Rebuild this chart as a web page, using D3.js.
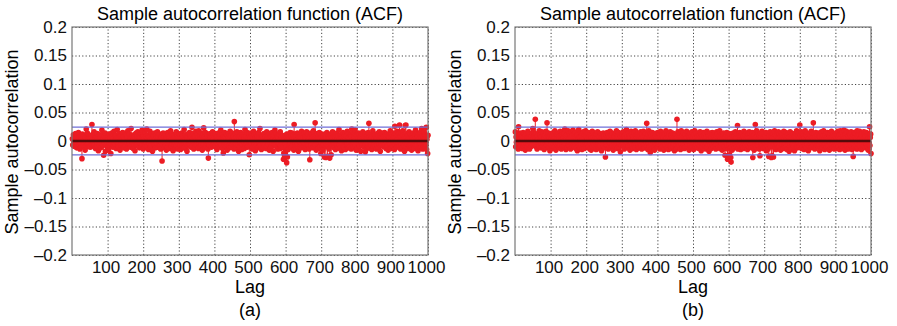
<!DOCTYPE html>
<html>
<head>
<meta charset="utf-8">
<script src="https://cdn.jsdelivr.net/npm/d3@7"></script>
<style>
  body { margin: 0; background: #fff; }
  text { font-family: "Liberation Sans", Arial, Helvetica, sans-serif; }
</style>
</head>
<body>
<div id="chart"></div>
<script>
// ACF values, in thousandths (lag 1..1000)
const acfA = [
  4,-7,2,11,-3,-9,6,0,-5,13, -2,8,-12,3,6,-1,-10,15,5,-6, 1,-14,9,-4,7,-11,3,-31,12,0, 5,-8,10,-3,2,8,-16,6,-2,21, -9,3,14,-6,1,-4,11,-10,7,-2,
  5,-11,9,-1,6,29,-6,2,-8,12, -3,16,-7,2,10,-13,5,0,8,-9, 13,-4,3,-17,9,1,-6,11,-2,6, -12,7,-1,19,-5,10,-8,3,-25,0, 9,-4,14,-18,2,-6,11,-1,7,-10,
  3,-15,8,-2,12,-7,1,6,-22,10, -5,14,-1,7,-11,4,-8,17,-3,1, 11,-6,9,-13,3,0,20,-8,5,-4, -10,6,13,-2,-16,9,0,-7,11,-4, 2,15,-9,6,-1,-12,8,4,-7,14,
  -2,10,-14,5,7,-4,18,-9,1,-6, 12,-3,6,-11,4,22,0,-8,9,-2, 6,-13,2,11,-7,8,-17,4,-1,14, -7,3,10,-5,16,-9,0,8,-12,2, 6,-4,13,-2,-10,5,19,-6,7,-14,
  9,-1,4,-11,15,-6,2,8,-4,21, -9,5,-2,10,-15,1,7,-5,17,-10, 3,-7,13,0,8,-18,5,-3,11,-6, 1,14,-8,4,-12,10,-2,6,-4,16, -11,2,8,-6,0,12,-9,5,-14,4,
  7,-4,-35,10,-6,14,-1,5,-12,8, -2,13,-8,4,-16,6,2,-10,15,-4, 11,0,6,-13,8,-3,18,-7,2,-9, 12,-5,1,-17,9,4,-6,11,-2,7, -13,3,16,-9,5,-1,10,-14,6,-4,
  2,12,-6,8,-15,4,-2,14,-9,6, 9,-7,0,-12,20,-4,6,-1,11,-13, -3,8,-18,5,2,-8,13,-5,1,15, -6,4,10,-11,7,-2,24,-9,4,0, 13,-14,3,8,-4,6,-10,17,-6,2,
  -8,11,-2,6,-13,18,1,-5,9,-10, 4,-2,14,-7,3,-16,8,-4,12,23, -6,7,-12,2,15,-1,-9,6,-4,10, 0,-14,-30,-3,12,-7,4,8,13,-2, 9,-11,5,0,16,-8,2,11,-5,6,
  -4,13,-9,4,-1,9,-15,6,2,-11, 14,-6,8,-2,-10,12,-4,19,-7,3, 0,11,-13,6,-21,8,4,-6,15,-2, 7,-9,1,12,-5,-16,10,-3,5,13, -8,2,-12,17,6,-4,9,-11,0,14,
  -6,10,-2,8,-14,34,4,-9,13,-4, 6,-12,16,0,3,-7,14,-18,6,2, -10,9,-4,15,-2,5,-15,11,-6,1, 12,-1,7,-13,4,20,-8,2,-5,9, -3,15,-11,6,0,-9,13,-24,8,-2,
  5,-8,14,-4,9,-14,2,6,-10,17, -1,11,-6,3,-17,7,-2,12,-7,4, 9,-12,0,15,-4,6,-9,22,-2,-7, 4,-15,10,0,8,-11,5,-3,13,-8, 1,12,-5,7,-13,2,16,-9,6,-2,
  10,-6,4,-16,13,-2,6,-12,8,0, -9,15,-4,9,-18,4,-1,11,-6,19, -7,2,13,-10,5,0,9,-14,6,-3, 12,-5,1,-13,16,-8,4,-12,7,-2, 6,-11,9,-32,-21,3,-26,10,-5,-19,
  7,-10,-38,12,-28,4,-15,9,-7,2, 11,-6,15,-3,8,-12,0,14,-9,5, -1,10,-16,29,4,-7,12,-4,7,-13, 2,-8,14,-5,9,-18,6,0,12,-10, 8,-2,4,-12,17,-7,1,11,-4,6,
  -9,13,-4,7,-15,5,2,-10,16,-6, 9,-1,12,-7,3,-14,6,-33,8,-2, 14,-8,0,11,-4,6,-12,18,-2,8, -11,4,32,-7,10,-16,2,-5,13,0, 6,-13,9,-3,15,-10,4,-1,-22,7,
  -4,12,-9,2,-16,8,-6,10,-28,4, 12,-2,-29,6,-10,15,-7,-27,4,-1, 9,-14,5,-30,11,-4,0,-24,13,-6, 2,16,-9,6,-2,-12,9,-4,7,-15, 11,-5,1,14,-8,4,-12,9,0,20,
  -7,3,-13,10,-2,7,-17,12,-4,6, 15,-9,2,-11,8,0,12,-15,5,-3, 9,-7,17,-4,1,-12,6,-6,13,-10, 4,-1,11,-14,8,21,-5,2,-10,16, -2,7,-12,5,19,-8,3,-16,10,-2,
  8,-13,4,0,14,-6,11,-9,2,6, -18,9,-4,12,-7,1,16,-5,6,-11, 3,-2,13,-19,-6,8,-14,4,-8,11, -4,15,-10,31,6,-12,2,-1,10,-7, 5,-15,8,-3,18,-9,0,12,-6,4,
  -10,11,-2,6,-14,4,-7,13,-1,9, -12,3,16,-6,9,-18,2,-4,7,14, -8,5,0,12,-10,8,-4,15,-7,2, 10,-13,6,-2,12,-9,4,-16,9,-3, 1,7,-11,18,-5,6,-13,2,11,-7,
  4,-9,14,-3,8,-15,26,-6,12,-1, 6,-11,2,17,-7,10,-4,13,-10,28, -2,9,-14,5,15,-6,1,-12,18,-4, 11,-8,3,-18,7,27,-2,28,-10,6, -5,13,0,9,-13,4,16,-9,2,-6,
  12,-4,7,-16,10,-1,6,-11,14,-7, 2,-13,9,-4,19,-9,5,-2,12,-6, 8,-17,1,13,-8,4,-12,15,-3,6, -10,22,-5,9,-14,2,7,-9,16,-2, 4,-12,11,-6,24,-15,3,9,-22,10
];
const acfB = [
  16,-10,7,-2,13,-6,2,9,-14,25, -4,8,-12,14,3,-8,11,-1,6,-13, 9,-3,15,-9,1,12,-6,5,-16,10, -2,13,-7,4,-11,17,-5,7,0,9, -14,4,11,-3,8,-9,2,14,-6,22,
  -8,3,15,-4,9,6,38,-2,12,-10, 6,-14,9,2,-6,13,-4,18,-9,4, -1,11,-12,7,16,-5,2,-9,13,-3, 8,-15,5,10,-2,-11,17,0,-7,32, -6,9,-2,14,-12,4,7,-17,11,0,
  13,-6,4,-13,9,1,-9,15,-4,7, -11,18,-2,6,-16,10,-5,12,2,-8, 14,-3,8,-12,4,-7,17,-1,9,-14, 2,11,-6,16,-10,5,0,13,-9,21, -4,6,-15,9,3,-12,12,-2,18,-7,
  4,-8,13,-2,10,-14,6,16,-5,-10, 9,-4,19,-7,0,12,-11,6,-2,15, -13,5,-1,9,-17,11,3,-6,20,-9, 7,-12,4,0,14,-6,9,-15,13,2, -4,16,-8,6,-13,10,-2,18,-10,8,
  -1,14,-6,4,-11,15,-9,7,2,-14, 11,-3,8,-16,5,0,17,-10,6,-4, 14,-7,2,-13,10,-2,6,-15,12,-6, 4,16,-10,9,-4,-13,7,1,-8,13, -2,9,-17,6,0,12,-5,14,-9,4,
  8,-12,3,-28,13,-6,10,-2,15,-8, 5,-14,11,-1,7,-10,17,-4,2,-12, 10,-4,14,-9,6,-16,2,12,-6,8, -10,1,13,-7,18,-3,6,-13,9,-2, 15,-11,4,-5,10,-19,8,0,-8,13,
  -6,11,-2,16,-10,6,-14,9,4,-4, 12,-8,20,-2,7,-12,3,14,-9,5, 0,10,-16,6,-6,17,-4,12,-9,2, 8,-13,4,15,-7,1,-11,18,-3,10, -15,6,-1,11,-5,13,-10,7,0,-12,
  10,-3,16,-8,5,-14,12,-2,6,-10, 17,-6,2,-12,9,0,13,-7,4,31, -9,7,-15,11,-4,18,1,-10,6,-20, 13,-4,9,-13,3,15,-6,10,-1,-11, 6,-16,12,-2,8,-8,4,14,-6,2,
  -10,15,-5,8,-2,12,-14,6,17,-7, 4,-11,10,0,14,-9,6,-16,11,-3, 13,-6,2,18,-10,5,-13,11,-4,7, -15,9,-2,13,-8,16,3,-6,10,-13, 6,-1,14,-10,4,-5,11,-17,8,0,
  12,-9,4,-14,38,6,-11,16,-3,10, -7,13,-1,9,-15,5,18,-6,2,-12, 10,-4,15,-8,6,-13,2,12,-10,4, -2,17,-10,6,-5,14,0,9,-16,7, 13,-7,3,-12,9,-2,16,-9,5,-4,
  8,-15,11,-3,18,-10,6,-1,13,-7, 4,-12,9,14,-5,2,-13,10,-8,16, -2,6,-17,12,-4,8,-10,3,15,-6, 10,-1,13,-9,5,-14,7,-4,17,-11, 1,13,-7,10,-18,4,-2,14,-7,9,
  -13,6,-4,15,-8,11,2,-10,7,-1, 14,-9,4,-14,10,-5,16,-2,12,-7, 2,-11,8,0,18,-13,6,-7,10,-4, 12,-16,3,9,-6,14,-10,5,-2,-25, 7,-13,11,-4,15,-8,-32,2,-14,9,
  -7,13,-24,4,-12,-29,-37,-10,6,-16, 10,-4,14,-8,2,-12,9,0,16,-6, 5,-10,12,-2,27,-14,7,-4,11,-7, 15,-2,6,-15,10,-5,13,-10,3,-9, 8,-13,17,-1,4,-11,12,-7,2,14,
  -4,9,-15,6,-8,12,-2,16,-11,5, 13,-6,1,-12,9,-3,15,-29,7,-10, 4,-16,11,0,29,-8,6,-12,18,-4, 9,-7,14,-2,5,-14,10,-26,2,13, -10,6,-5,17,-9,3,-13,8,-1,12,
  6,-12,9,-4,15,-17,2,-8,13,-2, -14,7,-27,4,11,-6,16,-10,1,-29, 8,-26,5,14,-9,-28,6,-5,18,-13, -1,10,-15,9,-4,13,-7,2,-12,16, 5,-9,12,-3,7,-16,10,0,14,-6,
  11,-2,6,-13,17,-8,4,-11,9,-4, 15,-10,2,-15,10,-1,13,-6,6,-18, 7,-5,16,-10,3,-14,10,-2,13,-7, -4,12,-9,5,-17,8,0,14,-11,4, 18,-6,2,-12,9,-3,15,-10,6,28,
  -8,11,-4,16,-13,6,2,-10,13,-2, 9,-15,5,-6,18,-9,3,-12,10,-1, 14,-6,7,-17,4,12,-8,6,-4,10, -12,17,-2,8,-10,13,5,32,-7,2, 12,-14,6,-4,15,-11,4,0,11,-8,
  3,-10,14,-6,9,-17,7,-2,12,-13, 16,-4,6,-12,10,-1,18,-8,4,-15, 10,-6,2,13,-10,6,-5,15,-9,4, 0,12,-16,8,-3,14,-11,5,17,-7, 6,-13,10,-2,13,-10,2,-14,9,-4,
  14,-8,5,-13,11,-4,17,-10,7,-2, 10,-15,4,18,-6,12,-9,1,-13,15, -5,8,-11,19,-2,6,-16,10,-7,6, 17,-3,13,-10,4,-14,9,-1,-12,13, -6,11,-4,16,-9,2,-15,7,-4,-27,
  10,-6,15,-11,6,-2,13,-8,4,-14, 18,-4,9,-13,1,12,-7,17,-10,5, -2,12,-15,7,-5,14,-10,3,-1,16, -9,6,11,-12,8,-4,15,-6,2,-11, 13,-16,5,10,-6,25,-8,6,12,-22
];
const confBound = [0.0245, -0.0245];
const yTicks = [0.2, 0.15, 0.1, 0.05, 0, -0.05, -0.1, -0.15, -0.2];
const yTickLabels = ["0.2", "0.15", "0.1", "0.05", "0", "\u20130.05", "\u20130.1", "\u20130.15", "\u20130.2"];
const xTicks = [100, 200, 300, 400, 500, 600, 700, 800, 900, 1000];
const panels = [
  { values: acfA, tag: "(a)", left: 72 },
  { values: acfB, tag: "(b)", left: 515 }
];

const svg = d3.select("#chart").append("svg")
  .attr("width", 897)
  .attr("height", 326);

const width = 356, height = 228, plotTop = 27;
const red = "#ec1c24";
const fontSize = 18, tickSize = 17;

panels.forEach(p => {
  const data = p.values.map((v, i) => ({ lag: i + 1, r: v / 1000 }));

  const x = d3.scaleLinear().domain([0, 1000]).range([0, width]);
  const y = d3.scaleLinear().domain([-0.2, 0.2]).range([height, 0]);

  const g = svg.append("g").attr("transform", "translate(" + p.left + "," + plotTop + ")");

  // grid
  g.append("g")
    .call(d3.axisLeft(y).tickValues(yTicks).tickSize(-width).tickFormat(""))
    .call(a => a.select(".domain").remove())
    .selectAll("line")
    .attr("stroke", "#444")
    .attr("stroke-dasharray", "1.2,2.2");
  g.append("g")
    .attr("transform", "translate(0," + height + ")")
    .call(d3.axisBottom(x).tickValues(xTicks).tickSize(-height).tickFormat(""))
    .call(a => a.select(".domain").remove())
    .selectAll("line")
    .attr("stroke", "#444")
    .attr("stroke-dasharray", "1.2,2.2");

  // stems + markers
  g.selectAll(".stem")
    .data(data)
    .enter().append("line")
    .attr("class", "stem")
    .attr("x1", d => x(d.lag))
    .attr("x2", d => x(d.lag))
    .attr("y1", y(0))
    .attr("y2", d => y(d.r))
    .attr("stroke", red)
    .attr("stroke-width", 1);
  g.selectAll(".dot")
    .data(data)
    .enter().append("circle")
    .attr("class", "dot")
    .attr("cx", d => x(d.lag))
    .attr("cy", d => y(d.r))
    .attr("r", 2.8)
    .attr("fill", red);

  // zero line
  g.append("line")
    .attr("x1", 0).attr("x2", width)
    .attr("y1", y(0)).attr("y2", y(0))
    .attr("stroke", "#550a0a")
    .attr("stroke-width", 2.4);

  // confidence bounds
  g.selectAll(".bound")
    .data(confBound)
    .enter().append("line")
    .attr("class", "bound")
    .attr("x1", 0).attr("x2", width)
    .attr("y1", d => y(d)).attr("y2", d => y(d))
    .attr("stroke", "#6f6fd8")
    .attr("stroke-width", 1.2);

  // frame
  g.append("rect")
    .attr("width", width).attr("height", height)
    .attr("fill", "none")
    .attr("stroke", "#777")
    .attr("stroke-width", 1.2);

  // axis labels
  const ya = g.append("g")
    .call(d3.axisLeft(y).tickValues(yTicks).tickSize(0).tickPadding(5)
      .tickFormat((d, i) => yTickLabels[i]));
  ya.select(".domain").remove();
  ya.selectAll("text").attr("font-size", tickSize).attr("fill", "#111")
    .style("font-family", "'Liberation Sans', Arial, sans-serif");

  const xa = g.append("g")
    .attr("transform", "translate(0," + height + ")")
    .call(d3.axisBottom(x).tickValues(xTicks).tickSize(0).tickPadding(6)
      .tickFormat(d3.format("d")));
  xa.select(".domain").remove();
  xa.selectAll("text").attr("font-size", tickSize).attr("fill", "#111")
    .attr("dx", -2)
    .style("font-family", "'Liberation Sans', Arial, sans-serif");

  g.append("text")
    .attr("x", width / 2).attr("y", -7)
    .attr("text-anchor", "middle")
    .attr("font-size", fontSize)
    .text("Sample autocorrelation function (ACF)");

  g.append("text")
    .attr("x", width / 2).attr("y", height + 38)
    .attr("text-anchor", "middle")
    .attr("font-size", fontSize)
    .text("Lag");

  g.append("text")
    .attr("x", width / 2).attr("y", height + 61)
    .attr("text-anchor", "middle")
    .attr("font-size", fontSize)
    .text(p.tag);

  g.append("text")
    .attr("transform", "translate(-54," + (height / 2 + 1) + ") rotate(-90)")
    .attr("text-anchor", "middle")
    .attr("font-size", fontSize)
    .text("Sample autocorrelation");
});
</script>
</body>
</html>
